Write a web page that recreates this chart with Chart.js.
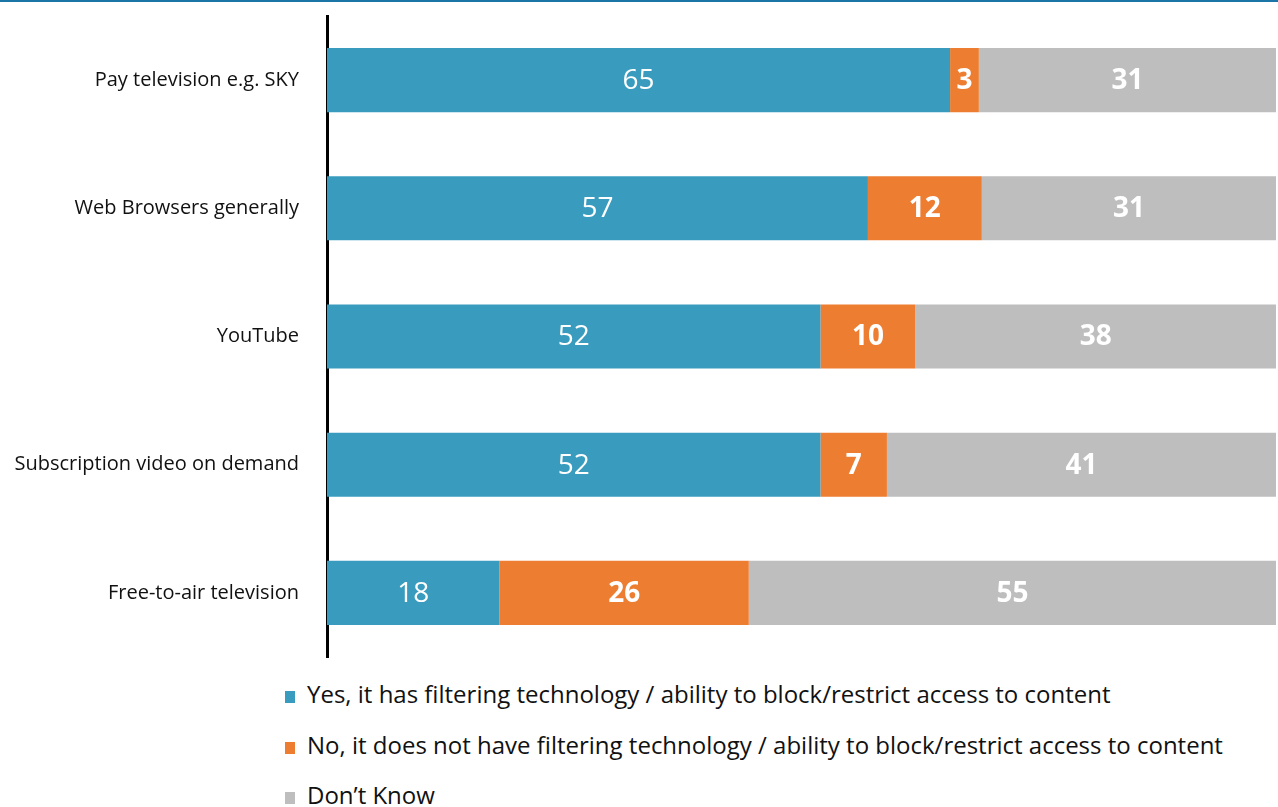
<!DOCTYPE html>
<html>
<head>
<meta charset="utf-8">
<title>Filtering technology by platform</title>
<script src="https://cdn.jsdelivr.net/npm/chart.js@4/dist/chart.umd.min.js"></script>
<style>

    html, body {
        margin: 0;
        padding: 0;
        background: #ffffff;
    }

    #page {
        position: relative;
        width: 1278px;
        height: 807px;
        overflow: hidden;
        border-top: 2px solid #1b75a6;
        box-sizing: border-box;
        font-family: "Open Sans", sans-serif;
    }

    #chartBox {
        position: absolute;
        left: 0;
        top: -2px;
        width: 1278px;
        height: 671px;
    }

    #legend {
        position: absolute;
        left: 285px;
        top: 677px;
        margin: 0;
        padding: 0;
        list-style: none;
    }

    #legend li {
        height: 50.5px;
        line-height: 30px;
        font-size: 24px;
        color: #111111;
        white-space: nowrap;
    }

    #legend .swatch {
        display: inline-block;
        width: 10px;
        height: 12px;
        margin-right: 12px;
        vertical-align: 0px;
    }

</style>
</head>
<body>

<div id="page">
    <div id="chartBox">
        <canvas id="filterChart"></canvas>
    </div>
    <ul id="legend"></ul>
</div>

<script>

// =========================================
// Data
// =========================================

const categories = [
    "Pay television e.g. SKY",
    "Web Browsers generally",
    "YouTube",
    "Subscription video on demand",
    "Free-to-air television"
];

const seriesNames = [
    "Yes, it has filtering technology / ability to block/restrict access to content",
    "No, it does not have filtering technology / ability to block/restrict access to content",
    "Don\u2019t Know"
];

const yesValues = [65, 57, 52, 52, 18];

const noValues = [3, 12, 10, 7, 26];

const dontKnowValues = [31, 31, 38, 41, 55];

const seriesColors = ["#399cbf", "#ed7d31", "#bebebe"];


// =========================================
// Helpers
// =========================================

// rows are drawn as 100% stacks, so each value becomes a share of its row
const rowTotals = categories.map((c, i) =>
    yesValues[i] + noValues[i] + dontKnowValues[i]
);

function toShare(values) {

    return values.map((v, i) => v / rowTotals[i] * 100);

}

const rawValues = [yesValues, noValues, dontKnowValues];


// =========================================
// Value labels inside the bars
// =========================================

const barLabels = {

    id: "barLabels",

    afterDatasetsDraw(chart) {

        const ctx = chart.ctx;

        ctx.save();

        ctx.fillStyle = "#ffffff";
        ctx.textAlign = "center";
        ctx.textBaseline = "middle";

        chart.data.datasets.forEach((ds, d) => {

            const meta = chart.getDatasetMeta(d);

            ctx.font = (d === 0 ? "400" : "700") +
                " 28px 'Open Sans', sans-serif";

            meta.data.forEach((bar, i) => {

                const cx = (bar.x + bar.base) / 2;

                ctx.fillText(String(rawValues[d][i]), cx, bar.y + 1);

            });

        });

        ctx.restore();

    }

};


// =========================================
// Chart
// =========================================

Chart.defaults.font.family = "'Open Sans', sans-serif";

const filterChart = new Chart(document.getElementById("filterChart"), {

    type: "bar",

    data: {

        labels: categories,

        datasets: [yesValues, noValues, dontKnowValues].map((vals, d) => ({

            label: seriesNames[d],

            data: toShare(vals),

            backgroundColor: seriesColors[d],

            borderWidth: 0,

            categoryPercentage: 1,

            barPercentage: 0.5

        }))

    },

    options: {

        indexAxis: "y",

        responsive: true,

        maintainAspectRatio: false,

        animation: false,

        layout: {

            autoPadding: false,

            padding: { top: 16, right: 2, bottom: 3, left: 0 }

        },

        plugins: {

            legend: { display: false },

            tooltip: { enabled: false }

        },

        scales: {

            x: {

                stacked: true,

                min: 0,

                max: 100,

                display: false

            },

            y: {

                stacked: true,

                grid: {

                    display: false,

                    tickLength: 26

                },

                border: {

                    display: true,

                    color: "#000000",

                    width: 3

                },

                ticks: {

                    color: "#111111",

                    padding: 2,

                    font: { size: 20 }

                },

                afterFit(scale) {

                    scale.width = 327;

                }

            }

        }

    },

    plugins: [barLabels]

});


// =========================================
// Legend
// =========================================

const legend = document.getElementById("legend");

seriesNames.forEach((name, d) => {

    const item = document.createElement("li");

    const swatch = document.createElement("span");

    swatch.className = "swatch";
    swatch.style.background = seriesColors[d];

    item.appendChild(swatch);
    item.appendChild(document.createTextNode(name));

    legend.appendChild(item);

});

</script>

</body>
</html>
